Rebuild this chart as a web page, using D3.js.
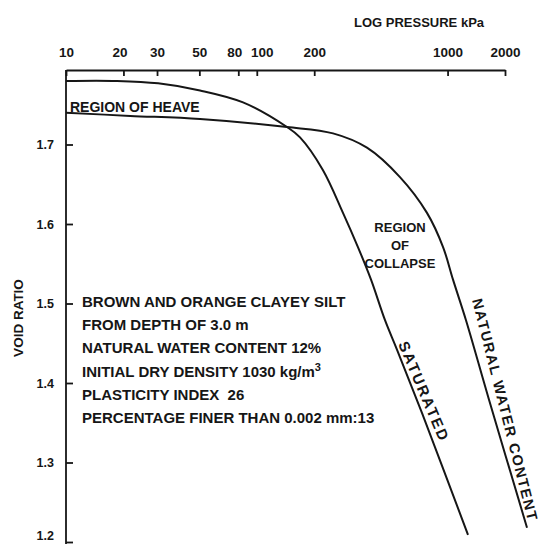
<!DOCTYPE html>
<html>
<head>
<meta charset="utf-8">
<script src="https://cdn.jsdelivr.net/npm/d3@7"></script>
<style>
  body { margin:0; background:#fff; }
  svg { display:block; }
  text { font-family: "Liberation Sans", Arial, Helvetica, sans-serif; font-weight:bold; fill:#161616; }
</style>
</head>
<body>
<div id="chart"></div>
<script>
// --- Data (pressure kPa, void ratio) ---
const pressureTicks = [10, 20, 30, 50, 80, 100, 200, 1000, 2000];
const voidTicks = [1.2, 1.3, 1.4, 1.5, 1.6, 1.7];

const saturatedP = [10, 18.5, 30.4, 50.4, 84.7, 144, 168.5, 222, 283, 339, 397, 470, 543, 735, 1280];
const saturatedE = [1.780, 1.780, 1.777, 1.768, 1.753, 1.722, 1.709, 1.668, 1.614, 1.571, 1.530, 1.479, 1.442, 1.362, 1.209];

const naturalP = [10, 21.7, 50.4, 144, 251, 378, 563, 780, 947, 1068, 1249, 1649, 2609];
const naturalE = [1.740, 1.736, 1.732, 1.722, 1.714, 1.696, 1.659, 1.614, 1.571, 1.530, 1.479, 1.379, 1.218];

const soilNotes = [
  "BROWN AND ORANGE CLAYEY SILT",
  "FROM DEPTH OF 3.0 m",
  "NATURAL WATER CONTENT 12%",
  "INITIAL DRY DENSITY 1030 kg/m",
  "PLASTICITY INDEX  26",
  "PERCENTAGE FINER THAN 0.002 mm:13"
];

// small nudges so crowded tick labels sit like the printed ones
const tickLabelShift = { 20: -4, 80: -4, 100: 5 };

// --- Layout ---
const width = 541, height = 544;
const axisY = 70;
const ink = "#161616";

const svg = d3.select("#chart").append("svg")
  .attr("width", width).attr("height", height);

const x = d3.scaleLog().domain([10, 2000]).range([66, 505]);
const y = d3.scaleLinear().domain([1.2, 1.8]).range([542, 65]);

// top (log pressure) axis, ticks point down into the plot
const gx = svg.append("g")
  .attr("transform", `translate(0,${axisY})`)
  .call(d3.axisTop(x)
    .tickValues(pressureTicks)
    .tickFormat(d3.format("d"))
    .tickSizeInner(-6)
    .tickSizeOuter(0)
    .tickPadding(13));
gx.attr("font-family", null).attr("font-size", null);
gx.selectAll("path, line").attr("stroke", ink).attr("stroke-width", 1.8);
gx.selectAll("text")
  .attr("font-size", 13.5)
  .attr("fill", ink)
  .attr("dx", d => tickLabelShift[d] || 0);

// left (void ratio) axis
const gy = svg.append("g")
  .attr("transform", `translate(${x(10)},0)`)
  .call(d3.axisLeft(y)
    .tickValues(voidTicks)
    .tickFormat(d3.format(".1f"))
    .tickSizeInner(-7)
    .tickSizeOuter(0)
    .tickPadding(12));
gy.attr("font-family", null).attr("font-size", null);
gy.select(".domain").remove();
gy.selectAll("line").attr("stroke", ink).attr("stroke-width", 1.8);
gy.selectAll("text").attr("font-size", 12.5).attr("fill", ink);
// bottom label sits against the page edge; lift it just enough to stay whole
gy.selectAll("text").filter(d => d === 1.2).attr("dy", "-0.2em");

svg.append("line")
  .attr("x1", x(10)).attr("x2", x(10))
  .attr("y1", axisY).attr("y2", height)
  .attr("stroke", ink).attr("stroke-width", 1.8);

// axis titles
svg.append("text")
  .attr("x", 354).attr("y", 27)
  .attr("font-size", 13)
  .text("LOG PRESSURE kPa");

svg.append("text")
  .attr("transform", "translate(23,318) rotate(-90)")
  .attr("text-anchor", "middle")
  .attr("font-size", 13.5)
  .text("VOID RATIO");

// --- Curves ---
const line = d3.line()
  .x(d => x(d[0]))
  .y(d => y(d[1]))
  .curve(d3.curveCatmullRom.alpha(0.5));

const curves = [
  d3.zip(saturatedP, saturatedE),
  d3.zip(naturalP, naturalE)
];

svg.append("g").selectAll("path")
  .data(curves)
  .join("path")
  .attr("d", line)
  .attr("fill", "none")
  .attr("stroke", ink)
  .attr("stroke-width", 2);

// --- Annotations ---
svg.append("text")
  .attr("x", 70).attr("y", 112)
  .attr("font-size", 14)
  .text("REGION OF HEAVE");

svg.append("g").selectAll("text")
  .data(["REGION", "OF", "COLLAPSE"])
  .join("text")
  .attr("x", 400)
  .attr("y", (d, i) => 232 + i * 18)
  .attr("text-anchor", "middle")
  .attr("font-size", 13)
  .text(d => d);

svg.append("text")
  .attr("transform", "translate(398,344) rotate(67)")
  .attr("font-size", 15)
  .attr("textLength", 106)
  .text("SATURATED");

svg.append("text")
  .attr("transform", "translate(472,300) rotate(75.8)")
  .attr("font-size", 14.5)
  .attr("textLength", 228)
  .text("NATURAL WATER CONTENT");

// soil description block
const notes = svg.append("g").selectAll("text")
  .data(soilNotes)
  .join("text")
  .attr("x", 82)
  .attr("y", (d, i) => 307 + i * 23.2)
  .attr("font-size", 15)
  .style("white-space", "pre")
  .text(d => d);

notes.filter((d, i) => i === 3)
  .append("tspan")
  .attr("dy", -6)
  .attr("font-size", 11)
  .text("3");
</script>
</body>
</html>
